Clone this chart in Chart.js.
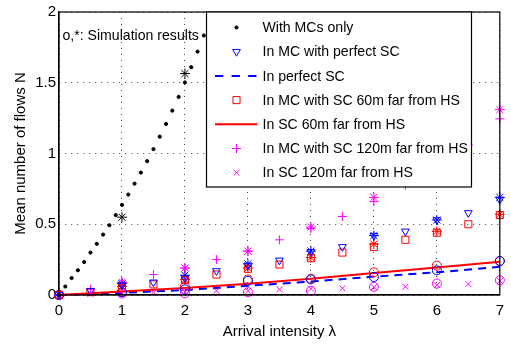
<!DOCTYPE html>
<html>
<head>
<meta charset="utf-8">
<script src="https://cdn.jsdelivr.net/npm/chart.js@4.4.0/dist/chart.umd.min.js"></script>
<style>
  body { margin: 0; background: #fff; }
  canvas { display: block; }
</style>
</head>
<body>
<canvas id="flowsChart" width="511" height="344"></canvas>
<script>
// Arrival intensity values used by the different series
const lambdaDots = [0, 0.1, 0.2, 0.3, 0.4, 0.5, 0.6, 0.7, 0.8, 0.9, 1, 1.1, 1.2, 1.3, 1.4, 1.5,
  1.6, 1.7, 1.8, 1.9, 2, 2.1, 2.2, 2.3, 2.4];
const lambdaHalf = [0, 0.5, 1, 1.5, 2, 2.5, 3, 3.5, 4, 4.5, 5, 5.5, 6, 6.5, 7];
const lambdaInt = [0, 1, 2, 3, 4, 5, 6, 7];
const lambdaSimMcOnly = [1, 2];

// Analysis
const mcOnly = [0, 0.06, 0.12, 0.175, 0.233, 0.30, 0.362, 0.427, 0.493, 0.565, 0.637, 0.71,
  0.787, 0.865, 0.946, 1.031, 1.119, 1.209, 1.303, 1.40, 1.502, 1.61, 1.72, 1.834, 1.95];
const mcPerfectSC = [0, 0.03, 0.07, 0.09, 0.12, 0.17, 0.21, 0.245, 0.305, 0.34, 0.42, 0.45, 0.53, 0.58, 0.675];
const perfectSC = [0, 0.015, 0.035, 0.065, 0.095, 0.13, 0.16, 0.2];
const mcSC60 = [0, 0.02, 0.05, 0.075, 0.105, 0.145, 0.185, 0.215, 0.26, 0.3, 0.34, 0.39, 0.44, 0.5, 0.565];
const sc60 = [0, 0.025, 0.05, 0.08, 0.115, 0.155, 0.195, 0.235];
const mcSC120 = [0, 0.04, 0.09, 0.145, 0.19, 0.25, 0.31, 0.39, 0.47, 0.555, 0.66, 0.775, 0.9, 1.06, 1.245];
const sc120 = [0, 0.01, 0.015, 0.02, 0.02, 0.03, 0.03, 0.04, 0.045, 0.047, 0.055, 0.058, 0.07, 0.077, 0.1];

// Simulation results (o,*)
const simMcOnly = [0.55, 1.565];
const simMcPerfectSC = [0, 0.08, 0.14, 0.22, 0.31, 0.42, 0.53, 0.69];
const simMcSC60 = [0, 0.06, 0.11, 0.19, 0.265, 0.36, 0.45, 0.57];
const simMcSC120 = [0, 0.09, 0.19, 0.31, 0.48, 0.69, 0.92, 1.31];
const simPerfectSC = [0, 0.02, 0.04, 0.1, 0.11, 0.127, 0.174, 0.24];
const simSC60 = [0, 0.02, 0.06, 0.11, 0.115, 0.16, 0.208, 0.24];
const simSC120 = [0, 0.01, 0.012, 0.02, 0.03, 0.058, 0.081, 0.104];

const legendLabels = [
  'With MCs only',
  'In MC with perfect SC',
  'In perfect SC',
  'In MC with SC 60m far from HS',
  'In SC 60m far from HS',
  'In MC with SC 120m far from HS',
  'In SC 120m far from HS',
];
const noteText = 'o,*: Simulation results';

const BLACK = '#000000';
const BLUE = '#0000ff';
const RED = '#ff0000';
const MAGENTA = '#ff00ff';
const FONT = '"Liberation Sans", Arial, Helvetica, sans-serif';

function toPoints(xs, ys) {
  return xs.map((x, i) => ({ x: x, y: ys[i] }));
}

function markers(label, xs, ys, color, style, radius, rotation) {
  return {
    label: label,
    data: toPoints(xs, ys),
    showLine: false,
    pointStyle: style,
    pointRadius: radius,
    pointRotation: rotation || 0,
    pointBorderColor: color,
    pointBackgroundColor: 'rgba(0,0,0,0)',
    pointBorderWidth: 1,
    clip: false,
  };
}

function curve(label, xs, ys, color, dash) {
  return {
    label: label,
    data: toPoints(xs, ys),
    showLine: true,
    borderColor: color,
    borderWidth: 2,
    borderDash: dash,
    pointRadius: 0,
    fill: false,
    clip: false,
  };
}

const dots = markers('With MCs only', lambdaDots, mcOnly, BLACK, 'circle', 1.6);
dots.pointBackgroundColor = BLACK;

const datasets = [
  dots,                                                                   // 0
  markers('In MC with perfect SC', lambdaHalf, mcPerfectSC, BLUE, 'triangle', 4.5, 180), // 1
  markers('In MC with SC 60m far from HS', lambdaHalf, mcSC60, RED, 'rect', 5),          // 2
  markers('In MC with SC 120m far from HS', lambdaHalf, mcSC120, MAGENTA, 'cross', 4.5), // 3
  markers('In SC 120m far from HS', lambdaHalf, sc120, MAGENTA, 'crossRot', 4.2),        // 4
  markers('sim MCs only', lambdaSimMcOnly, simMcOnly, BLACK, 'star', 5),
  markers('sim MC perfect SC', lambdaInt, simMcPerfectSC, BLUE, 'star', 5),
  markers('sim MC SC 60m', lambdaInt, simMcSC60, RED, 'star', 5),
  markers('sim MC SC 120m', lambdaInt, simMcSC120, MAGENTA, 'star', 5),
  markers('sim perfect SC', lambdaInt, simPerfectSC, BLUE, 'circle', 4.5),
  markers('sim SC 60m', lambdaInt, simSC60, RED, 'circle', 4.5),
  markers('sim SC 120m', lambdaInt, simSC120, MAGENTA, 'circle', 4.5),
  curve('In SC 60m far from HS', lambdaInt, sc60, RED, []),               // 12
  curve('In perfect SC', lambdaInt, perfectSC, BLUE, [8, 6]),             // 13
];

// legend rows point at the dataset that gives their style
const legendSets = [0, 1, 13, 2, 12, 3, 4];

// text a bit narrower than Liberation Sans, like the original Helvetica
function narrowText(ctx, text, x, y) {
  ctx.save();
  ctx.translate(x, y);
  ctx.scale(0.94, 1);
  ctx.fillText(text, 0, 0);
  ctx.restore();
}

// Matlab style box, note text and legend
const matlabDecor = {
  id: 'matlabDecor',
  afterDatasetsDraw(chart) {
    const ctx = chart.ctx;
    const a = chart.chartArea;
    ctx.save();
    ctx.strokeStyle = BLACK;
    ctx.lineWidth = 1.2;
    ctx.setLineDash([]);
    ctx.strokeRect(a.left, a.top, a.right - a.left, a.bottom - a.top);

    ctx.fillStyle = BLACK;
    ctx.font = '15px ' + FONT;
    ctx.textBaseline = 'alphabetic';
    narrowText(ctx, noteText, a.left + 3.5, a.top + 27.5);

    // legend box
    const bx = a.left + 147.5;
    const by = a.top;
    const bw = 265;
    const bh = 175;
    ctx.fillStyle = '#ffffff';
    ctx.fillRect(bx, by, bw, bh);
    ctx.strokeStyle = BLACK;
    ctx.lineWidth = 1.2;
    ctx.strokeRect(bx, by, bw, bh);

    legendLabels.forEach((text, i) => {
      const ds = chart.data.datasets[legendSets[i]];
      const cy = by + 15.5 + i * 24.2;
      const cx = bx + 30;
      if (ds.showLine) {
        ctx.save();
        ctx.strokeStyle = ds.borderColor;
        ctx.lineWidth = ds.borderWidth;
        ctx.setLineDash(ds.borderDash.length ? [8.3, 8.3] : []);
        ctx.beginPath();
        ctx.moveTo(bx + 8.5, cy);
        ctx.lineTo(bx + 51, cy);
        ctx.stroke();
        ctx.restore();
      } else {
        ctx.save();
        ctx.strokeStyle = ds.pointBorderColor;
        ctx.fillStyle = ds.pointBackgroundColor;
        ctx.lineWidth = ds.pointBorderWidth;
        Chart.helpers.drawPoint(ctx, {
          pointStyle: ds.pointStyle,
          radius: ds.pointRadius,
          rotation: ds.pointRotation,
          borderWidth: ds.pointBorderWidth,
        }, cx, cy);
        ctx.restore();
      }
      ctx.fillStyle = BLACK;
      ctx.font = '15px ' + FONT;
      ctx.textBaseline = 'middle';
      narrowText(ctx, text, bx + 56, cy + 0.5);
    });
    ctx.restore();
  },
};

new Chart(document.getElementById('flowsChart'), {
  type: 'scatter',
  data: { datasets: datasets },
  options: {
    responsive: false,
    animation: false,
    devicePixelRatio: 1,
    layout: { padding: { top: 7, right: 9, left: 0, bottom: 0 } },
    plugins: {
      legend: { display: false },
      tooltip: { enabled: false },
    },
    scales: {
      x: {
        type: 'linear',
        min: 0,
        max: 7,
        ticks: { stepSize: 1, color: BLACK, font: { family: FONT, size: 15 }, padding: 7 },
        grid: { color: '#444', lineWidth: 1, drawTicks: false },
        border: { display: true, color: BLACK, width: 1.2, dash: [1, 5] },
        title: {
          display: true,
          text: 'Arrival intensity λ',
          color: BLACK,
          font: { family: FONT, size: 15 },
          padding: { top: 0, bottom: 3 },
        },
        afterFit(scale) { scale.height = 49; },
      },
      y: {
        type: 'linear',
        min: 0,
        max: 2,
        ticks: {
          stepSize: 0.5,
          color: BLACK,
          font: { family: FONT, size: 15 },
          padding: 3,
          callback: (value) => String(value),
        },
        grid: { color: '#444', lineWidth: 1, drawTicks: false },
        border: { display: true, color: BLACK, width: 1.2, dash: [1, 5] },
        title: {
          display: true,
          text: 'Mean number of flows N',
          color: BLACK,
          font: { family: FONT, size: 15 },
          padding: { top: 12, bottom: 0 },
        },
        afterFit(scale) { scale.width = 59; },
      },
    },
  },
  plugins: [matlabDecor],
});
</script>
</body>
</html>
